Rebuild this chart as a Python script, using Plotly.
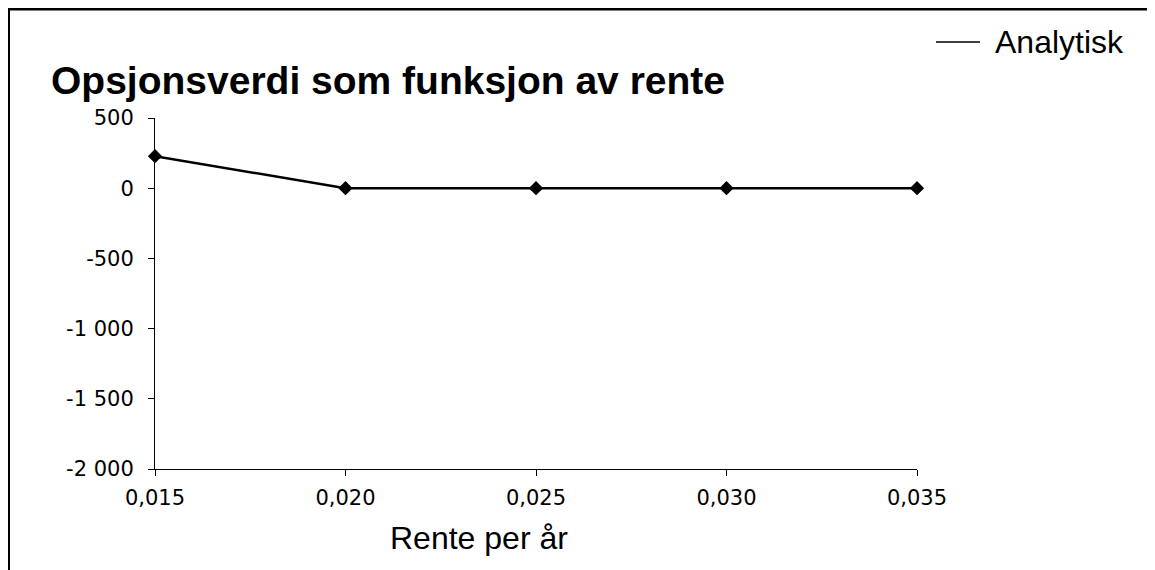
import plotly.graph_objects as go

# Data
rente = [0.015, 0.020, 0.025, 0.030, 0.035]
opsjonsverdi = [228, 0, 0, 0, 0]
x_tickvals = [0.015, 0.020, 0.025, 0.030, 0.035]
x_ticktext = ["0,015", "0,020", "0,025", "0,030", "0,035"]
y_tickvals = [500, 0, -500, -1000, -1500, -2000]
y_ticktext = ["500", "0", "-500", "-1 000", "-1 500", "-2 000"]
series_name = "Analytisk"
title_text = "Opsjonsverdi som funksjon av rente"
x_title = "Rente per år"

VW, VH = 1155, 570
OFF = 8  # page body margin
W, H = VW - OFF, VH - OFF
L = 155 - OFF
T = 118 - OFF
R = W - (917 - OFF)
B = H - (469 - OFF)
pw, ph = W - L - R, H - T - B


def px(xp):
    return (xp - OFF - L) / pw


def py(yp):
    return (H - B - (yp - OFF)) / ph


fig = go.Figure()
fig.add_trace(go.Scatter(
    x=rente, y=opsjonsverdi, mode="lines+markers", name=series_name,
    line=dict(color="black", width=2.5),
    marker=dict(symbol="diamond", size=11, color="black"),
    showlegend=False, cliponaxis=False,
))

tick_font = dict(family="DejaVu Sans", size=21, color="black")

fig.update_layout(
    width=W, height=H,
    margin=dict(l=L, r=R, t=T, b=B),
    paper_bgcolor="white", plot_bgcolor="white",
    xaxis=dict(
        range=[0.015, 0.035], tickvals=x_tickvals, ticktext=x_ticktext,
        showgrid=False, zeroline=False, showline=True, linecolor="black",
        linewidth=1, ticks="outside", ticklen=6, tickcolor="black",
        tickfont=tick_font, ticklabelstandoff=4,
    ),
    yaxis=dict(
        range=[-2000, 500], tickvals=y_tickvals, ticktext=y_ticktext,
        showgrid=False, zeroline=False, showline=True, linecolor="black",
        linewidth=1, ticks="outside", ticklen=6, tickcolor="black",
        tickfont=tick_font, ticklabelstandoff=10,
    ),
    showlegend=False,
)

# Legend (line sample + label)
fig.add_shape(
    type="line", xref="paper", yref="paper",
    x0=px(936), x1=px(980), y0=py(42), y1=py(42),
    line=dict(color="black", width=1.5),
)
fig.add_annotation(
    text=series_name, xref="paper", yref="paper",
    x=px(993), y=py(42), xanchor="left", yanchor="middle", showarrow=False,
    font=dict(family="Liberation Sans", size=32, color="black"),
)

fig.add_annotation(
    text="<b>" + title_text + "</b>", xref="paper", yref="paper",
    x=px(49), y=py(80), xanchor="left", yanchor="middle", showarrow=False,
    font=dict(family="Liberation Sans", size=39, color="black"),
)
fig.add_annotation(
    text=x_title, xref="paper", yref="paper",
    x=px(479), y=py(538), xanchor="center", yanchor="middle", showarrow=False,
    font=dict(family="Liberation Sans", size=32, color="black"),
)

# Chart frame: left and top edges (right/bottom lie outside the picture)
fig.add_shape(
    type="line", xref="paper", yref="paper",
    x0=px(8.5), x1=px(8.5), y0=py(VH), y1=py(7.5),
    line=dict(color="black", width=3), layer="above",
)
fig.add_shape(
    type="line", xref="paper", yref="paper",
    x0=px(7), x1=px(VW), y0=py(9), y1=py(9),
    line=dict(color="black", width=3), layer="above",
)

fig.write_html("out.html", config={"displayModeBar": False})
